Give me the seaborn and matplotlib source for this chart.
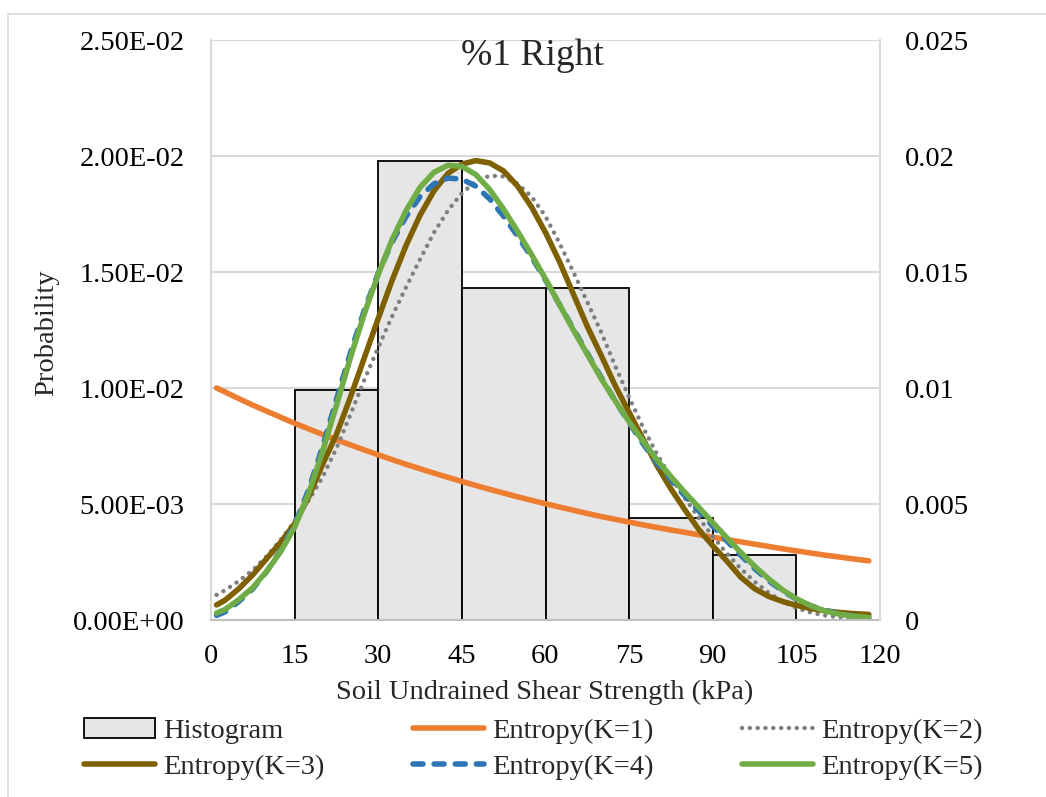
import numpy as np
import pandas as pd
import matplotlib
matplotlib.use("Agg")
import matplotlib.pyplot as plt
from matplotlib.patches import Rectangle, Patch
from matplotlib.lines import Line2D
import seaborn as sns

# ---------------- data ----------------
bin_left = [15, 30, 45, 60, 75, 90]
bin_width = 15
hist_vals = [0.0099, 0.0198, 0.0143, 0.0143, 0.0044, 0.0028]

x_grid = [1, 2.5, 5, 7.5, 10, 12.5, 15, 17.5, 20, 22.5,
          25, 27.5, 30, 32.5, 35, 37.5, 40, 42.5, 45, 47.5,
          50, 52.5, 55, 57.5, 60, 62.5, 65, 67.5, 70, 72.5,
          75, 77.5, 80, 82.5, 85, 87.5, 90, 92.5, 95, 97.5,
          100, 102.5, 105, 107.5, 110, 112.5, 115, 118]

k1 = [0.01000, 0.00983, 0.00954, 0.00926, 0.00900, 0.00874, 0.00848, 0.00824, 0.00800, 0.00777,
      0.00755, 0.00733, 0.00712, 0.00691, 0.00671, 0.00652, 0.00633, 0.00615, 0.00597, 0.00580,
      0.00563, 0.00547, 0.00531, 0.00516, 0.00501, 0.00487, 0.00473, 0.00459, 0.00446, 0.00434,
      0.00422, 0.00410, 0.00399, 0.00388, 0.00378, 0.00367, 0.00357, 0.00347, 0.00337, 0.00327,
      0.00317, 0.00307, 0.00298, 0.00289, 0.00280, 0.00272, 0.00264, 0.00255]
k2 = [0.00108, 0.00128, 0.00168, 0.00215, 0.00275, 0.00345, 0.00425, 0.00515, 0.00615, 0.00740,
      0.00885, 0.01035, 0.01175, 0.01310, 0.01435, 0.01555, 0.01670, 0.01765, 0.01840, 0.01890,
      0.01915, 0.01912, 0.01880, 0.01825, 0.01740, 0.01625, 0.01500, 0.01370, 0.01240, 0.01095,
      0.00960, 0.00830, 0.00715, 0.00615, 0.00525, 0.00440, 0.00360, 0.00288, 0.00222, 0.00165,
      0.00118, 0.00080, 0.00052, 0.00033, 0.00020, 0.00012, 0.00008, 0.00005]
k3 = [0.00065, 0.00085, 0.00135, 0.00195, 0.00265, 0.00335, 0.00415, 0.00530, 0.00670, 0.00800,
      0.00960, 0.01130, 0.01300, 0.01465, 0.01615, 0.01745, 0.01850, 0.01925, 0.01965, 0.01980,
      0.01970, 0.01935, 0.01870, 0.01780, 0.01670, 0.01545, 0.01405, 0.01265, 0.01140, 0.01010,
      0.00895, 0.00780, 0.00665, 0.00565, 0.00475, 0.00390, 0.00320, 0.00255, 0.00185, 0.00135,
      0.00102, 0.00080, 0.00063, 0.00050, 0.00040, 0.00033, 0.00028, 0.00024]
k4 = [0.00020, 0.00035, 0.00080, 0.00135, 0.00210, 0.00300, 0.00410, 0.00560, 0.00745, 0.00950,
      0.01150, 0.01335, 0.01495, 0.01630, 0.01740, 0.01825, 0.01880, 0.01905, 0.01900, 0.01870,
      0.01815, 0.01740, 0.01655, 0.01565, 0.01465, 0.01360, 0.01255, 0.01150, 0.01045, 0.00945,
      0.00850, 0.00760, 0.00678, 0.00605, 0.00535, 0.00470, 0.00405, 0.00342, 0.00280, 0.00222,
      0.00170, 0.00126, 0.00090, 0.00062, 0.00042, 0.00028, 0.00018, 0.00010]
k5 = [0.00030, 0.00045, 0.00088, 0.00140, 0.00210, 0.00295, 0.00400, 0.00545, 0.00725, 0.00925,
      0.01130, 0.01320, 0.01490, 0.01640, 0.01765, 0.01865, 0.01930, 0.01960, 0.01955, 0.01920,
      0.01855, 0.01770, 0.01675, 0.01575, 0.01470, 0.01360, 0.01250, 0.01145, 0.01040, 0.00945,
      0.00855, 0.00770, 0.00690, 0.00618, 0.00550, 0.00485, 0.00420, 0.00355, 0.00292, 0.00232,
      0.00178, 0.00130, 0.00092, 0.00062, 0.00040, 0.00026, 0.00017, 0.00010]

series_names = ["Entropy(K=1)", "Entropy(K=2)", "Entropy(K=3)", "Entropy(K=4)", "Entropy(K=5)"]
series_vals = [k1, k2, k3, k4, k5]
for v in series_vals:
    assert len(v) == len(x_grid)

x_ticks = [0, 15, 30, 45, 60, 75, 90, 105, 120]
left_ticks = [0, 0.005, 0.010, 0.015, 0.020, 0.025]
left_tick_labels = ["0.00E+00", "5.00E-03", "1.00E-02", "1.50E-02", "2.00E-02", "2.50E-02"]
right_tick_labels = ["0", "0.005", "0.01", "0.015", "0.02", "0.025"]

title = "%1 Right"
x_label = "Soil Undrained Shear Strength (kPa)"
y_label = "Probability"

# ---------------- style ----------------
sns.set_theme(style="white")
plt.rcParams["font.family"] = ["Liberation Serif", "DejaVu Serif"]
FS = 20.5

colors = ["#ED7D31", "#7F7F7F", "#7F6000", "#2E75B6", "#70AD47"]
styles = [
    dict(linestyle="-", linewidth=4.0),
    dict(linestyle=(0, (0.01, 1.75)), linewidth=3.2),
    dict(linestyle="-", linewidth=4.0),
    dict(linestyle=(0, (1.8, 2.0)), linewidth=4.0),
    dict(linestyle="-", linewidth=4.0),
]

W, H = 1046, 797
fig = plt.figure(figsize=(W / 100, H / 100), dpi=100)

# chart-area border
fig.patches.append(Rectangle((7.5 / W, -0.2), 1.2, 1.2 - 13.5 / H, transform=fig.transFigure,
                             fill=False, edgecolor="#D9D9D9", lw=1.2, zorder=0))

ax = fig.add_axes([211 / W, 1 - 620 / H, 669 / W, 580 / H])
ax.set_facecolor("none")

# histogram bars
ax.bar(bin_left, hist_vals, width=bin_width, align="edge", color="#E7E6E6",
       edgecolor="black", linewidth=1.3, zorder=2)

# entropy curves
for name, vals, c, st in zip(series_names, series_vals, colors, styles):
    df = pd.DataFrame({"x": x_grid, "y": vals})
    sns.lineplot(data=df, x="x", y="y", ax=ax, color=c, legend=False, sort=False)
    ln = ax.lines[-1]
    ln.set_linewidth(st["linewidth"])
    ln.set_linestyle(st["linestyle"])
    ln.set_zorder(3)
    ln.set_solid_capstyle("round")
    ln.set_dash_capstyle("round")
    ln.set_solid_joinstyle("round")

ax.set_xlim(0, 120)
ax.set_ylim(0, 0.025)
ax.set_xticks(x_ticks)
ax.set_xticklabels([str(t) for t in x_ticks])
ax.set_yticks(left_ticks)
ax.set_yticklabels(left_tick_labels)
ax.set_xlabel("")
ax.set_ylabel("")
ax.tick_params(axis="y", length=0, pad=19, labelsize=FS, colors="black")
ax.tick_params(axis="x", length=0, pad=17, labelsize=FS, colors="black")
ax.grid(axis="y", color="#D9D9D9", lw=1.5, zorder=0)
ax.grid(axis="x", visible=False)
ax.set_axisbelow(True)
ax.spines["top"].set_visible(False)
ax.spines["left"].set_color("#D9D9D9")
ax.spines["left"].set_linewidth(1.5)
ax.spines["right"].set_color("#D9D9D9")
ax.spines["right"].set_linewidth(1.5)
ax.spines["bottom"].set_color("#BFBFBF")
ax.spines["bottom"].set_linewidth(1.5)
ax.spines["bottom"].set_zorder(4)

ax2 = ax.twinx()
ax2.set_ylim(0, 0.025)
ax2.set_yticks(left_ticks)
ax2.set_yticklabels(right_tick_labels)
ax2.tick_params(axis="y", length=0, pad=18, labelsize=FS, colors="black")
ax2.grid(False)
for s in ["top", "left", "bottom"]:
    ax2.spines[s].set_visible(False)
ax2.spines["right"].set_color("#D9D9D9")
ax2.spines["right"].set_linewidth(1.5)

# titles / labels
fig.text(532.5 / W, 1 - 56 / H, title, ha="center", va="center", fontsize=27)
fig.text(545 / W, 1 - 692 / H, x_label, ha="center", va="center", fontsize=FS)
fig.text(47 / W, 1 - 333 / H, y_label, ha="center", va="center", rotation=90, fontsize=FS)

# legend
handles = [Patch(facecolor="#E7E6E6", edgecolor="black", lw=1.3, label="Histogram")]
for name, c, st in zip(series_names, colors, styles):
    h = Line2D([0], [0], color=c, label=name, solid_capstyle="round",
               dash_capstyle="round", **st)
    handles.append(h)
order = [0, 3, 1, 4, 2, 5]
handles = [handles[i] for i in order]
fig.legend(handles=handles, ncol=3, loc="upper left",
           bbox_to_anchor=(84 / W, 1 - 718 / H), frameon=False, fontsize=FS,
           handlelength=2.5, handletextpad=0.28, columnspacing=3.1,
           labelspacing=0.36, borderpad=0, borderaxespad=0)

fig.savefig("out.png", dpi=100)
